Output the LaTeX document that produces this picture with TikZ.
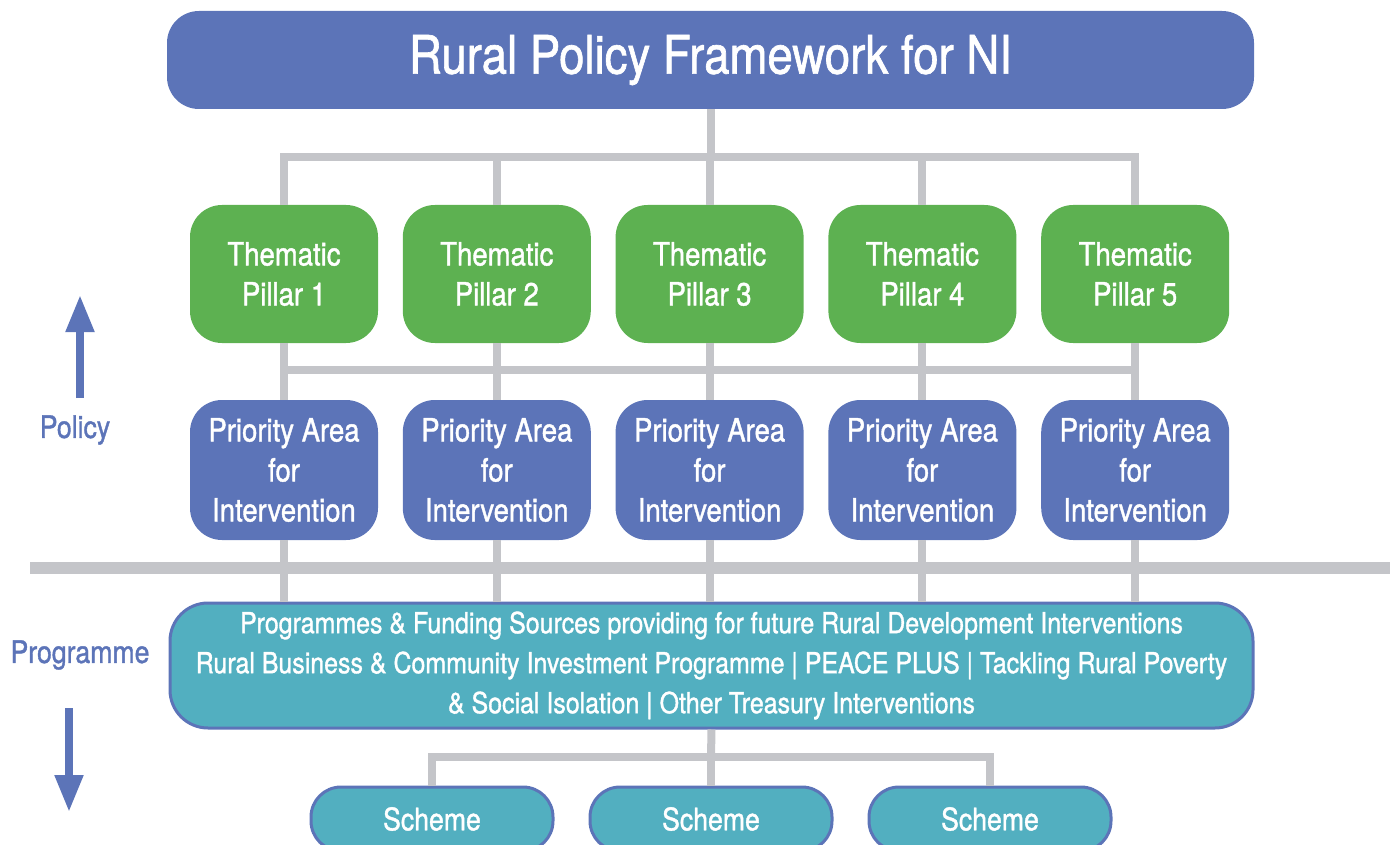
\documentclass[tikz,border=0pt]{standalone}
\usepackage{fontspec}
\setmainfont[FakeStretch=0.86,FakeBold=1.2]{TeX Gyre Heros}
\usepackage{tikz}
\usetikzlibrary{arrows.meta}

\definecolor{rpblue}{HTML}{5C74B8}
\definecolor{rpgreen}{HTML}{5DB151}
\definecolor{rpteal}{HTML}{52AFC0}
\definecolor{rpgrey}{HTML}{C4C5C9}

\tikzset{
  conn/.style={rpgrey,line width=8pt},
  titlebox/.style={fill=rpblue,rounded corners=32pt,minimum width=1087pt,minimum height=98pt,
    inner sep=0pt,text=white,font=\fontsize{53}{60}\selectfont},
  pillar/.style={fill=rpgreen,rounded corners=32pt,minimum width=188pt,minimum height=138pt,
    inner sep=0pt,text=white,align=center,font=\fontsize{32}{40}\selectfont},
  area/.style={pillar,fill=rpblue,minimum height=140pt},
  progbox/.style={fill=rpteal,draw=rpblue,line width=3pt,rounded corners=38pt,minimum width=1083pt,
    minimum height=125pt,inner sep=0pt,text=white,align=center,font=\fontsize{29}{40}\selectfont},
  scheme/.style={progbox,rounded corners=30pt,minimum width=242pt,minimum height=64pt,
    font=\fontsize{31}{40}\selectfont},
  side/.style={text=rpblue,inner sep=0pt,font=\fontsize{31}{40}\selectfont},
  updown/.style={rpblue,line width=8pt,-{Triangle[width=27pt,length=37pt]}}
}

\begin{document}
\begin{tikzpicture}[x=1pt,y=-1pt]
\useasboundingbox (0,0) rectangle (1397,845);
\clip (0,0) rectangle (1397,845);

\node[titlebox] (title) at (710.5,60) {Rural Policy Framework for NI};

% pillars and priority areas
\foreach \i in {1,...,5} {
\node[pillar] (p\i) at ({284+212.8*(\i-1)},274) {Thematic\\Pillar \i};
\node[area] (a\i) at ({284+212.8*(\i-1)},470) {Priority Area\\for\\Intervention};
}

\node[progbox] (prog) at (711.5,665.5) {Programmes \& Funding Sources providing for future Rural Development Interventions\\
Rural Business \& Community Investment Programme | PEACE PLUS | Tackling Rural Poverty\\
\& Social Isolation | Other Treasury Interventions};

\foreach \x/\n in {432/1,711/2,990/3} {
\node[scheme] (s\n) at (\x,819) {Scheme};
}

% lines
\coordinate (top) at (710.5,157);
\coordinate (mid) at (710.5,370);
\coordinate (low) at (711,757);
\draw[conn] (title.south) -- (top);
\draw[conn] (p1.north) -- (p1.north |- top) -- (p5.north |- top) -- (p5.north);
\foreach \i in {2,3,4} {
\draw[conn] (p\i.north |- top) -- (p\i.north);
}
\draw[conn] (p1.south |- mid) -- (p5.south |- mid);
\foreach \i in {1,...,5} {
\draw[conn] (p\i.south) -- (a\i.north);
\draw[conn] (a\i.south) -- (a\i.south |- prog.north);
}
\draw[rpgrey,line width=12pt] (30,568) -- (1390,568);
\draw[conn] (prog.south) -- (low);
\draw[conn] (s1.north) -- (s1.north |- low) -- (s3.north |- low) -- (s3.north);
\draw[conn] (low) -- (s2.north);

% policy / programme
\node[side] (policy) at (75,430) {Policy};
\node[side] (prg) at (80,655) {Programme};
\coordinate (uptail) at (80,398);
\coordinate (uptip) at (80,295);
\coordinate (dntail) at (69,708);
\coordinate (dntip) at (69,812);
\draw[updown] (uptail) -- (uptip);
\draw[updown] (dntail) -- (dntip);
\end{tikzpicture}
\end{document}
